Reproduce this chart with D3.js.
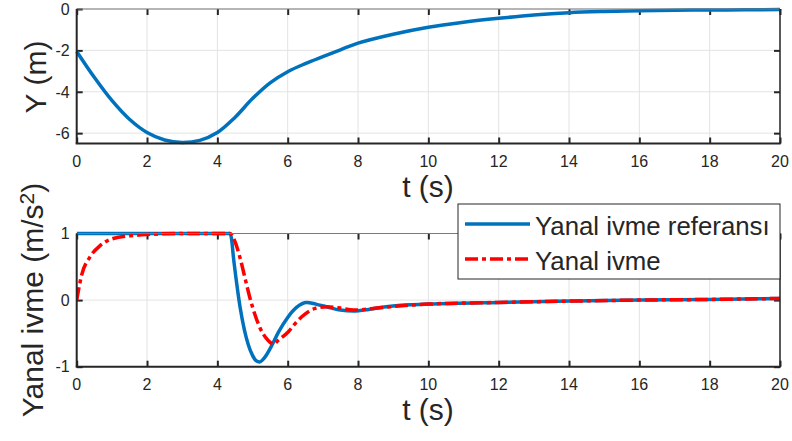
<!DOCTYPE html>
<html>
<head>
<meta charset="utf-8">
<script src="https://cdn.jsdelivr.net/npm/d3@7"></script>
<style>
  body { margin: 0; background: #fff; }
  text { font-family: "Liberation Sans", Arial, sans-serif; fill: #262626; }
</style>
</head>
<body>
<svg width="792" height="441"></svg>
<script>
// top panel: lateral position
var tPos = [0, 0.5, 1, 1.5, 2, 2.5, 3, 3.5, 4, 4.5, 5, 5.5, 6, 6.5, 7, 7.5, 8, 9, 10, 11, 12, 13, 14, 15, 16, 17, 18, 19, 20];
var yPos = [-2.05, -3.3, -4.42, -5.33, -5.97, -6.33, -6.45, -6.35, -5.97, -5.24, -4.33, -3.57, -3.03, -2.64, -2.3, -1.97, -1.65, -1.22, -0.88, -0.64, -0.45, -0.29, -0.18, -0.12, -0.08, -0.06, -0.05, -0.04, -0.03];

// bottom panel: lateral acceleration reference and actual
var tRef = [0, 4.36, 4.4, 4.46, 4.55, 4.65, 4.77, 4.88, 5.0, 5.1, 5.2, 5.3, 5.4, 5.5, 5.75, 6.0, 6.25, 6.54, 6.8, 7.1, 7.5, 7.87, 8.3, 8.63, 9.48, 10, 12, 14, 16, 18, 20];
var aRef = [1, 1, 0.93, 0.63, 0.25, -0.12, -0.45, -0.67, -0.83, -0.91, -0.93, -0.89, -0.82, -0.73, -0.47, -0.26, -0.11, -0.035, -0.06, -0.1, -0.15, -0.165, -0.14, -0.11, -0.07, -0.06, -0.035, -0.015, 0, 0.01, 0.025];
var tAcc = [0, 0.14, 0.38, 0.66, 1.04, 1.52, 2, 3, 4.36, 4.5, 4.65, 4.8, 4.93, 5.07, 5.22, 5.4, 5.6, 5.74, 6.02, 6.2, 6.4, 6.78, 7.11, 7.5, 7.87, 8.63, 9.48, 10, 12, 14, 16, 18, 20];
var aAcc = [0, 0.375, 0.65, 0.815, 0.925, 0.965, 0.985, 1, 1, 0.88, 0.625, 0.3, 0.025, -0.22, -0.425, -0.58, -0.66, -0.6, -0.475, -0.36, -0.25, -0.125, -0.1, -0.12, -0.15, -0.115, -0.075, -0.06, -0.035, -0.015, 0, 0.01, 0.025];

var xTicks = [0, 2, 4, 6, 8, 10, 12, 14, 16, 18, 20];
var yTicksTop = [-6, -4, -2, 0];
var yTicksBot = [-1, 0, 1];
var legendLabels = ["Yanal ivme referans\u0131", "Yanal ivme"];

var svg = d3.select("svg");
var left = 76.7, right = 780;

function panel(top, bottom, yDomain, yTicks) {
    var x = d3.scaleLinear().domain([0, 20]).range([left, right]);
    var y = d3.scaleLinear().domain(yDomain).range([bottom, top]);
    var g = svg.append("g");

    // grid
    g.selectAll(".gx").data(xTicks).enter().append("line")
        .attr("x1", d => x(d)).attr("x2", d => x(d))
        .attr("y1", top).attr("y2", bottom)
        .attr("stroke", "#e3e3e3").attr("stroke-width", 1);
    g.selectAll(".gy").data(yTicks).enter().append("line")
        .attr("x1", left).attr("x2", right)
        .attr("y1", d => y(d)).attr("y2", d => y(d))
        .attr("stroke", "#e3e3e3").attr("stroke-width", 1);

    // axes with inside ticks
    var ax = g.append("g").attr("transform", "translate(0," + bottom + ")")
        .call(d3.axisBottom(x).tickValues(xTicks).tickSizeInner(-6).tickSizeOuter(0).tickPadding(0));
    ax.selectAll("text").remove();
    var axTop = g.append("g").attr("transform", "translate(0," + top + ")")
        .call(d3.axisTop(x).tickValues(xTicks).tickSizeInner(-6).tickSizeOuter(0));
    axTop.selectAll("text").remove();
    var ay = g.append("g").attr("transform", "translate(" + left + ",0)")
        .call(d3.axisLeft(y).tickValues(yTicks).tickSizeInner(-6).tickSizeOuter(0));
    ay.selectAll("text").remove();
    var ayR = g.append("g").attr("transform", "translate(" + right + ",0)")
        .call(d3.axisRight(y).tickValues(yTicks).tickSizeInner(-6).tickSizeOuter(0));
    ayR.selectAll("text").remove();
    g.selectAll(".domain").remove();
    g.selectAll(".tick line").attr("stroke", "#262626").attr("stroke-width", 2);

    // tick labels
    g.selectAll(".xl").data(xTicks).enter().append("text")
        .attr("x", d => x(d)).attr("y", bottom + 23.5)
        .attr("text-anchor", "middle").style("font-size", "16px")
        .text(d => d);
    g.selectAll(".yl").data(yTicks).enter().append("text")
        .attr("x", left - 7).attr("y", d => y(d)).attr("dy", "0.36em")
        .attr("text-anchor", "end").style("font-size", "16px")
        .text(d => d);

    return {g: g, x: x, y: y, top: top, bottom: bottom};
}

function frame(p) {
    p.g.append("line").attr("x1", left).attr("x2", right).attr("y1", p.top).attr("y2", p.top)
        .attr("stroke", "#7a7a7a").attr("stroke-width", 1.2);
    p.g.append("line").attr("x1", right).attr("x2", right).attr("y1", p.top).attr("y2", p.bottom)
        .attr("stroke", "#262626").attr("stroke-width", 1.5);
    p.g.append("line").attr("x1", left).attr("x2", left).attr("y1", p.top).attr("y2", p.bottom)
        .attr("stroke", "#262626").attr("stroke-width", 2);
    p.g.append("line").attr("x1", left - 1).attr("x2", right + 0.75).attr("y1", p.bottom).attr("y2", p.bottom)
        .attr("stroke", "#262626").attr("stroke-width", 2);
}

// top panel
var p1 = panel(9, 143.5, [-6.5, 0], yTicksTop);
var line1 = d3.line().x((d, i) => p1.x(tPos[i])).y(d => p1.y(d)).curve(d3.curveCatmullRom.alpha(0.5));
p1.g.append("path").datum(yPos).attr("d", line1)
    .attr("fill", "none").attr("stroke", "#0072BD").attr("stroke-width", 3.5);
frame(p1);

p1.g.append("text").attr("x", 428).attr("y", 197).attr("text-anchor", "middle")
    .style("font-size", "30px").text("t (s)");
p1.g.append("text").attr("transform", "translate(46,77) rotate(-90)").attr("text-anchor", "middle")
    .style("font-size", "30px").text("Y (m)");

// bottom panel
var p2 = panel(233.5, 366.7, [-1, 1], yTicksBot);
svg.append("clipPath").attr("id", "clip2").append("rect")
    .attr("x", left).attr("y", 231).attr("width", right - left).attr("height", 138);
var lineRef = d3.line().x((d, i) => p2.x(tRef[i])).y(d => p2.y(d)).curve(d3.curveMonotoneX);
var lineAcc = d3.line().x((d, i) => p2.x(tAcc[i])).y(d => p2.y(d)).curve(d3.curveMonotoneX);
p2.g.append("path").datum(aRef).attr("d", lineRef).attr("clip-path", "url(#clip2)")
    .attr("fill", "none").attr("stroke", "#0072BD").attr("stroke-width", 3.5);
p2.g.append("path").datum(aAcc).attr("d", lineAcc).attr("clip-path", "url(#clip2)")
    .attr("fill", "none").attr("stroke", "#FF0000").attr("stroke-width", 3.5)
    .attr("stroke-dasharray", "13,4,4,4");
frame(p2);

p2.g.append("text").attr("x", 428).attr("y", 420).attr("text-anchor", "middle")
    .style("font-size", "30px").text("t (s)");
var yl = p2.g.append("text").attr("transform", "translate(43,300) rotate(-90)").attr("text-anchor", "middle")
    .style("font-size", "30px");
yl.append("tspan").text("Yanal ivme (m/s");
yl.append("tspan").attr("dy", "-0.45em").style("font-size", "21px").text("2");
yl.append("tspan").attr("dy", "0.315em").text(")");

// legend
var lg = svg.append("g");
lg.append("rect").attr("x", 458).attr("y", 204).attr("width", 322).attr("height", 75)
    .attr("fill", "#fff").attr("stroke", "#262626").attr("stroke-width", 1);
var legendStyles = [{c: "#0072BD", dash: null, y: 224}, {c: "#FF0000", dash: "13,4,4,4", y: 259}];
legendLabels.forEach(function(lab, i) {
    var s = legendStyles[i];
    lg.append("line").attr("x1", 465).attr("x2", 530).attr("y1", s.y).attr("y2", s.y)
        .attr("stroke", s.c).attr("stroke-width", 3.5).attr("stroke-dasharray", s.dash);
    lg.append("text").attr("x", 535).attr("y", s.y + 11).style("font-size", "25.8px").text(lab);
});
</script>
</body>
</html>
